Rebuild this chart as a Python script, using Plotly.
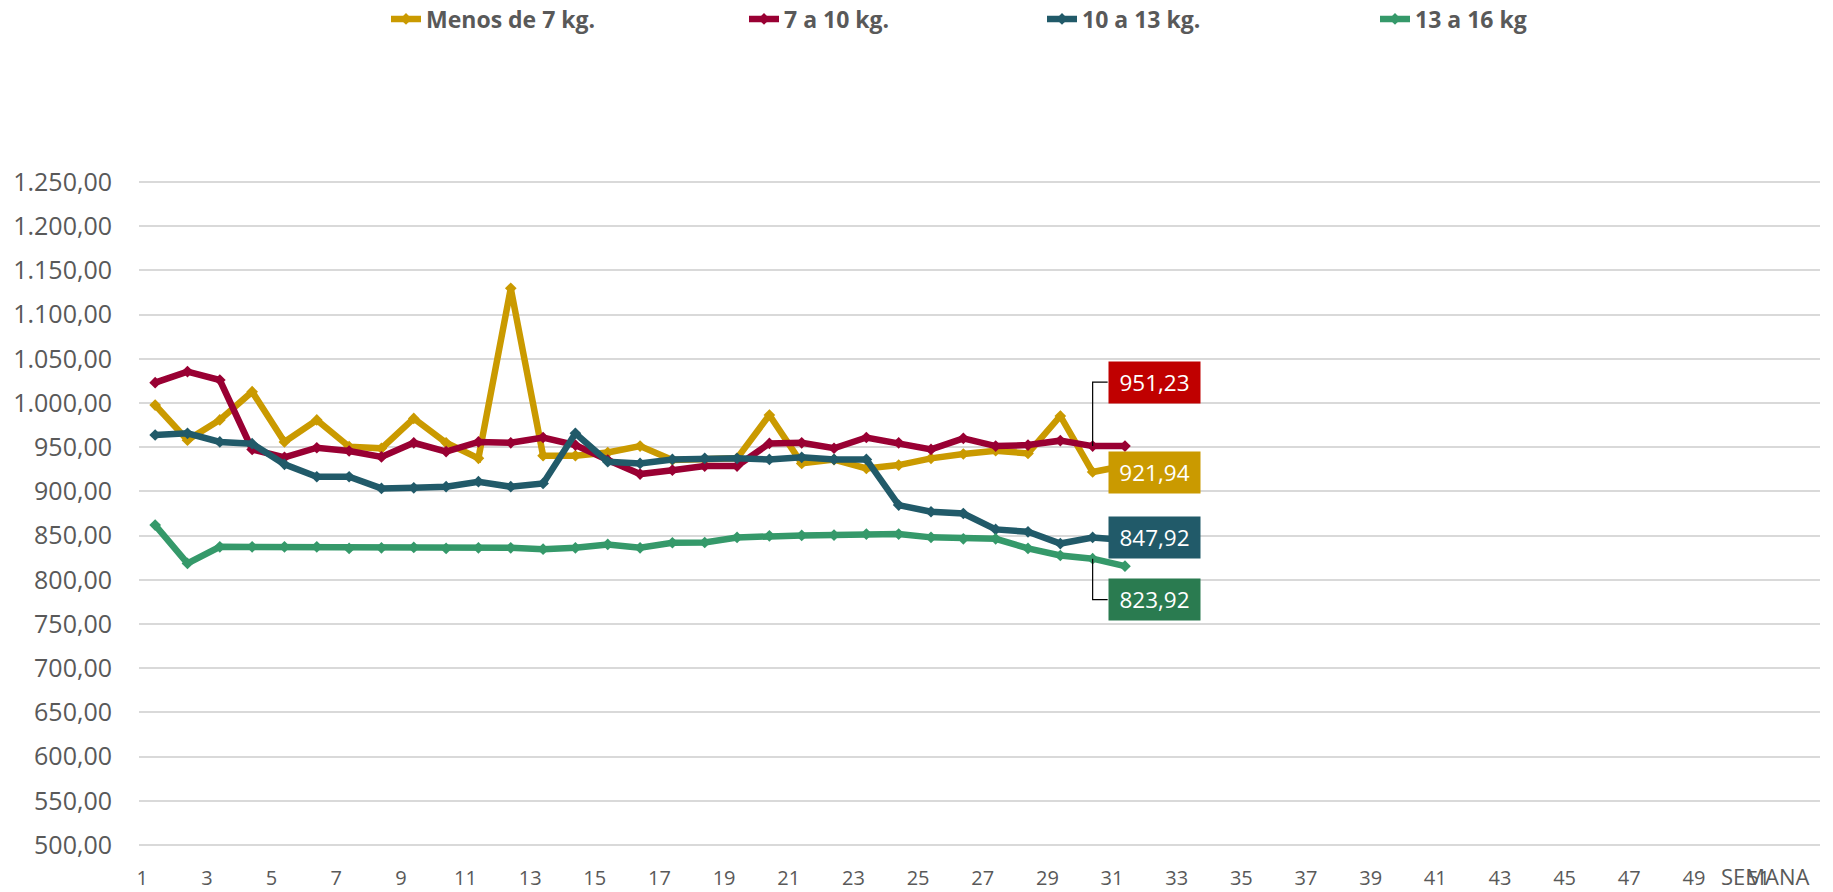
import plotly.graph_objects as go

# ---------------- data ----------------
weeks = list(range(1, 32))
menos_7 = [997.7, 958.0, 980.8, 1012.8, 956.0, 980.8, 950.6, 948.7, 982.6, 955.0,
           937.4, 1129.8, 940.4, 940.4, 944.0, 951.3, 935.5, 936.0, 937.4, 986.4,
           931.7, 936.0, 926.0, 929.8, 937.4, 942.3, 946.0, 943.0, 985.3, 921.94, 929.0]
de_7_a_10 = [1023.0, 1035.5, 1026.0, 947.5, 938.5, 949.4, 945.7, 939.0, 955.0, 945.0,
             956.0, 955.0, 961.0, 952.4, 935.5, 919.6, 924.0, 928.7, 928.7, 954.3,
             955.0, 948.8, 961.0, 955.0, 947.5, 960.0, 951.3, 952.4, 957.4, 951.23, 951.3]
de_10_a_13 = [963.8, 965.7, 956.0, 954.0, 930.6, 916.6, 916.6, 903.4, 904.0, 905.3,
              911.0, 905.3, 909.0, 965.7, 933.6, 931.7, 936.2, 937.4, 937.4, 936.2,
              938.5, 936.2, 936.2, 884.5, 877.0, 875.0, 857.0, 854.3, 841.0, 847.92, 845.0]
de_13_a_16 = [861.9, 818.5, 837.3, 837.3, 837.3, 837.3, 835.5, 836.2, 836.6, 835.5,
              836.2, 836.2, 834.7, 836.2, 840.0, 836.2, 841.9, 842.2, 847.9, 849.8,
              850.2, 850.6, 851.7, 851.7, 848.0, 846.4, 846.4, 835.5, 827.5, 823.92, 815.4]

series_names = ["Menos de 7 kg.", "7 a 10 kg.", "10 a 13 kg.", "13 a 16 kg"]
series_values = [menos_7, de_7_a_10, de_10_a_13, de_13_a_16]
x_tick_labels = [str(k) for k in range(1, 52, 2)]
y_tick_values = list(range(500, 1251, 50))
label_week = 30
x_axis_title = "SEMANA"

# ---------------- style ----------------
line_colors = ["#CA9A00", "#990033", "#215A69", "#35996A"]
box_colors = ["#CA9A00", "#C00000", "#215A69", "#2A7B50"]
label_yshift = [0, 64, 0, -41]
leader_paths = [None, "M0,0 L0,64 L15,64", None, "M0,0 L0,-41 L15,-41"]
legend_text_x = [428, 786, 1084, 1417]
W, H = 1833, 892
PAD = 2  # px of padding so that the edge gridlines are drawn
ML, MR, MT, MB = 139, 13, 182 - PAD, 47 - PAD
PW, PH = W - ML - MR, H - MT - MB
Y_LO, Y_HI = 500, 1250
units_per_px = (Y_HI - Y_LO) / (PH - 2 * PAD)
GRAY = "#595959"

fig = go.Figure()
legend_ids = ["legend", "legend2", "legend3", "legend4"]
for name, vals, col, lid in zip(series_names, series_values, line_colors, legend_ids):
    fig.add_trace(go.Scatter(
        x=weeks, y=vals, name=name, mode="lines+markers",
        line=dict(color=col, width=6.5),
        marker=dict(symbol="diamond", size=9, color=col),
        legend=lid, showlegend=True,
    ))

layout_legends = {}
for lid, tx in zip(legend_ids, legend_text_x):
    layout_legends[lid] = dict(
        x=(tx - 42) / W, xref="container", xanchor="left",
        y=1 - 19 / H, yref="container", yanchor="middle",
        orientation="h", bgcolor="rgba(0,0,0,0)", visible=True,
        font=dict(family="Open Sans", size=23, color=GRAY, weight="bold"),
    )

annotations = []
shapes = []
idx = weeks.index(label_week)
for vals, bc, ys, lp in zip(series_values, box_colors, label_yshift, leader_paths):
    v = vals[idx]
    annotations.append(dict(
        x=label_week, y=v, xref="x", yref="y", showarrow=False,
        xanchor="left", yanchor="middle", xshift=15, yshift=ys,
        text=f"{v:.2f}".replace(".", ","), bgcolor=bc,
        width=89, height=39, borderpad=1,
        font=dict(family="Open Sans", size=22.5, color="white"),
    ))
    if lp:
        shapes.append(dict(
            type="path", xref="x", yref="y", xsizemode="pixel", ysizemode="pixel",
            xanchor=label_week, yanchor=v, path=lp,
            line=dict(color="black", width=1.2),
        ))

annotations.append(dict(
    x=(1765 - ML) / PW, y=(H - MB - 876) / PH, xref="paper", yref="paper",
    showarrow=False, text=x_axis_title, xanchor="center", yanchor="middle",
    font=dict(family="Open Sans", size=22, color=GRAY),
))

fig.update_layout(
    width=W, height=H, autosize=False,
    margin=dict(l=ML, r=MR, t=MT, b=MB, autoexpand=False),
    paper_bgcolor="white", plot_bgcolor="white",
    separators=",.", showlegend=True,
    annotations=annotations, shapes=shapes,
    **layout_legends,
    xaxis=dict(
        range=[0.5, 52.5], showgrid=False, zeroline=False, showline=False,
        tickvals=[int(t) - 0.4 for t in x_tick_labels], ticktext=x_tick_labels,
        ticks="", ticklabelstandoff=17, automargin=False,
        tickfont=dict(family="Open Sans", size=20, color=GRAY),
    ),
    yaxis=dict(
        range=[Y_LO - PAD * units_per_px, Y_HI + PAD * units_per_px],
        tickvals=y_tick_values, tickformat=",.2f",
        showgrid=True, gridcolor="#D9D9D9", gridwidth=1.5, zeroline=False,
        showline=False, ticks="", ticklabelstandoff=26, automargin=False,
        tickfont=dict(family="Open Sans", size=25, color=GRAY),
    ),
)

fig.write_html("out.html", config={"displayModeBar": False},
               post_script="document.body.style.margin='0';document.body.style.overflow='hidden';")
